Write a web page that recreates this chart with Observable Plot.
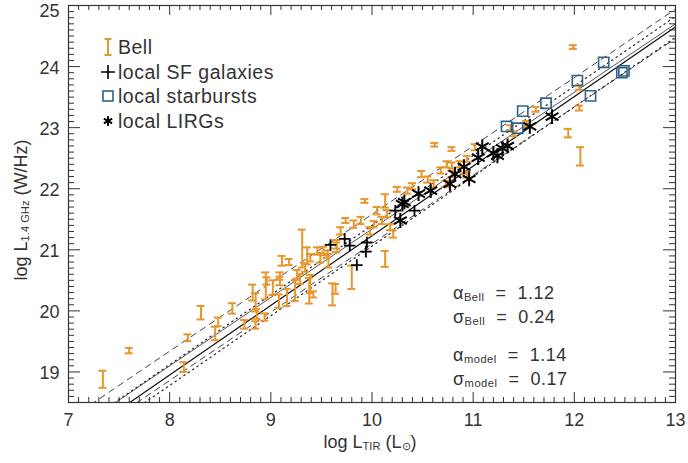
<!DOCTYPE html>
<html><head><meta charset="utf-8">
<script src="https://cdn.jsdelivr.net/npm/d3@7"></script>
<script src="https://cdn.jsdelivr.net/npm/@observablehq/plot@0.6"></script>
<style>body{margin:0;background:#fff}svg{display:block}</style>
</head><body><div id="chart"></div>
<script>
// Bell sample (orange error bars)
const bellX = [7.34,7.60,8.14,8.18,8.31,8.45,8.48,8.62,8.74,8.85,8.82,8.85,8.86,8.94,8.95,9.02,9.09,9.08,9.16,9.11,9.18,9.24,9.29,9.31,9.36,9.38,9.42,9.49,9.57,9.61,9.64,9.52,9.65,10.62,10.79,9.93,9.74,10.13,9.80,10.49,10.25,10.35,10.61,10.74,10.68,10.73,10.79,10.91,10.94,11.02,10.13,10.05,10.15,10.10,10.02,10.18,10.21,9.98,9.89,9.82,9.69,9.65,9.56,9.46,9.39,9.34,9.09,9.39,9.26,8.96,11.99,12.05,11.62,12.05,11.94,12.06,11.40,11.53,11.37,10.79,10.87,10.94,10.40,10.55];
const bellY = [18.88,19.35,19.08,19.56,19.97,19.63,19.82,20.04,19.78,19.77,20.30,20.14,19.95,19.90,20.41,20.38,20.57,20.16,20.22,20.82,20.80,20.33,20.52,21.02,20.90,20.33,20.27,20.87,20.82,20.27,20.36,20.98,21.04,22.72,22.65,21.80,21.48,20.85,20.55,22.24,21.99,21.97,22.08,22.40,22.30,22.08,22.24,22.30,22.49,22.68,21.80,21.64,21.59,21.48,21.42,21.37,21.26,21.31,21.48,21.42,21.31,21.09,20.93,20.98,20.87,20.71,20.49,20.44,20.60,20.49,24.32,23.66,23.30,23.32,22.91,22.53,22.90,23.06,23.00,22.38,22.40,22.23,22.04,22.15];
const bellErr = [0.14,0.045,0.08,0.055,0.11,0.11,0.07,0.085,0.07,0.06,0.13,0.15,0.08,0.06,0.22,0.12,0.06,0.11,0.14,0.08,0.05,0.17,0.08,0.31,0.14,0.21,0.05,0.08,0.11,0.18,0.08,0.07,0.08,0.03,0.03,0.03,0.04,0.13,0.19,0.05,0.04,0.05,0.06,0.05,0.05,0.05,0.05,0.05,0.05,0.05,0.11,0.06,0.06,0.06,0.05,0.05,0.06,0.06,0.06,0.06,0.06,0.07,0.06,0.06,0.06,0.07,0.07,0.15,0.07,0.06,0.03,0.04,0.04,0.04,0.07,0.15,0.04,0.05,0.04,0.05,0.05,0.05,0.05,0.05];
// local SF galaxies (plus)
const sfX = [10.23,10.42,9.73,9.59,9.78,9.95,9.94,9.85];
const sfY = [21.64,21.64,21.18,21.08,21.07,21.12,20.97,20.75];
// local starbursts (squares)
const sbX = [12.29,12.03,12.47,12.49,11.72,12.16,11.49,11.33,11.44];
const sbY = [24.07,23.77,23.90,23.93,23.40,23.52,23.27,23.02,22.99];
// local LIRGs (asterisks)
const lirgX = [11.78,11.56,11.09,11.34,11.29,11.20,11.24,11.05,10.91,10.82,10.96,10.77,10.58,10.46,10.30,10.32,10.28];
const lirgY = [23.18,23.02,22.69,22.70,22.66,22.58,22.54,22.51,22.36,22.24,22.16,22.08,21.97,21.92,21.75,21.78,21.48];
// fits
const fitNames = ["Bell","model"];
const fitSlopes = [1.12, 1.14];
const fitIntercepts = [10.14, 9.83];
const fitSigmas = [0.24, 0.17];
const xTickValues = [7,8,9,10,11,12,13];
const yTickValues = [19,20,21,22,23,24,25];

const W = 688, H = 463, mL = 68, mR = 13, mT = 5, mB = 61;
const xDom = [7,13], yDom = [18.5,25];
const pxX = (xDom[1]-xDom[0])/(W-mL-mR);
const pxY = (yDom[1]-yDom[0])/(H-mT-mB);

const orange = "#E8952B", blue = "#2F6189", ink = "#333";

const bell = bellX.map((x,i)=>({x, y: bellY[i], e: bellErr[i]}));
const sf = sfX.map((x,i)=>({x, y: sfY[i]}));
const sb = sbX.map((x,i)=>({x, y: sbY[i]}));
const lirg = lirgX.map((x,i)=>({x, y: lirgY[i]}));

function fitLine(k, off){
  return [6.5, 13.5].map(x=>({x, y: fitSlopes[k]*x + fitIntercepts[k] + off}));
}

const xMinor = d3.range(70,131).map(v=>v/10).filter(v=>!xTickValues.includes(v));
const yMinor = d3.range(185,251).map(v=>v/10).filter(v=>!yTickValues.includes(v));

const capW = 4*pxX;
const tickMarks = [
  Plot.ruleX(xTickValues, {x: d=>d, y1: yDom[0], y2: yDom[0]+10*pxY, stroke: ink}),
  Plot.ruleX(xTickValues, {x: d=>d, y1: yDom[1], y2: yDom[1]-10*pxY, stroke: ink}),
  Plot.ruleX(xMinor, {x: d=>d, y1: yDom[0], y2: yDom[0]+5*pxY, stroke: ink}),
  Plot.ruleX(xMinor, {x: d=>d, y1: yDom[1], y2: yDom[1]-5*pxY, stroke: ink}),
  Plot.ruleY(yTickValues, {y: d=>d, x1: xDom[0], x2: xDom[0]+12*pxX, stroke: ink}),
  Plot.ruleY(yTickValues, {y: d=>d, x1: xDom[1], x2: xDom[1]-12*pxX, stroke: ink}),
  Plot.ruleY(yMinor, {y: d=>d, x1: xDom[0], x2: xDom[0]+6*pxX, stroke: ink}),
  Plot.ruleY(yMinor, {y: d=>d, x1: xDom[1], x2: xDom[1]-6*pxX, stroke: ink})
];

const chart = Plot.plot({
  width: W, height: H,
  marginLeft: mL, marginRight: mR, marginTop: mT, marginBottom: mB,
  style: {fontFamily: "'Liberation Sans', Arial, sans-serif", color: ink, background: "#fff"},
  x: {domain: xDom, axis: null, label: null},
  y: {domain: yDom, axis: null, label: null},
  marks: [
    // fit lines
    Plot.line(fitLine(0,0), {x:"x", y:"y", stroke:"#555", strokeWidth:1, clip:true}),
    Plot.line(fitLine(0, fitSigmas[0]), {x:"x", y:"y", stroke:"#444", strokeWidth:1, strokeDasharray:"6,5", clip:true}),
    Plot.line(fitLine(0,-fitSigmas[0]), {x:"x", y:"y", stroke:"#444", strokeWidth:1, strokeDasharray:"6,5", clip:true}),
    Plot.line(fitLine(1,0), {x:"x", y:"y", stroke:"#111", strokeWidth:1.2, clip:true}),
    Plot.line(fitLine(1, fitSigmas[1]), {x:"x", y:"y", stroke:"#222", strokeWidth:1.2, strokeDasharray:"1.3,4", clip:true}),
    Plot.line(fitLine(1,-fitSigmas[1]), {x:"x", y:"y", stroke:"#222", strokeWidth:1.2, strokeDasharray:"1.3,4", clip:true}),
    // Bell error bars
    Plot.ruleX(bell, {x:"x", y1: d=>d.y-d.e, y2: d=>d.y+d.e, stroke: orange, strokeWidth: 2}),
    Plot.ruleY(bell, {y: d=>d.y-d.e, x1: d=>d.x-capW, x2: d=>d.x+capW, stroke: orange, strokeWidth: 2}),
    Plot.ruleY(bell, {y: d=>d.y+d.e, x1: d=>d.x-capW, x2: d=>d.x+capW, stroke: orange, strokeWidth: 2}),
    // squares
    Plot.dot(sb, {x:"x", y:"y", symbol:"square2", r: 6.5, stroke: blue, strokeWidth: 1.6, fill:"none"}),
    // plus
    Plot.dot(sf, {x:"x", y:"y", symbol:"plus", r: 3.8, stroke: "#000", strokeWidth: 1.8}),
    // asterisk
    Plot.dot(lirg, {x:"x", y:"y", symbol:"asterisk", r: 7, stroke: "#000", strokeWidth: 2}),
    ...tickMarks,
    Plot.frame({stroke: ink, strokeWidth: 1.2}),
    Plot.axisX(xTickValues, {tickSize: 0, tickPadding: 11, fontSize: 18, fill: ink, label: null, tickFormat: d=>String(d)}),
    Plot.axisY(yTickValues.filter(v=>v<25), {tickSize: 0, tickPadding: 9, dy: 1.5, fontSize: 18, fill: ink, label: null, tickFormat: d=>String(d)}),
    Plot.axisY(yTickValues.filter(v=>v===25), {tickSize: 0, tickPadding: 9, dy: 6, fontSize: 18, fill: ink, label: null, tickFormat: d=>String(d)})
  ]
});
document.getElementById("chart").appendChild(chart);

// Text overlays (titles, legend, annotations)
const svg = d3.select(chart);
const g = svg.append("g").attr("font-family","'Liberation Sans', Arial, sans-serif").attr("fill", ink).attr("text-anchor","start");

function subText(parent, x, y, parts, size, attrs={}) {
  const t = parent.append("text").attr("x", x).attr("y", y).attr("font-size", size).attr("text-anchor","start");
  for (const [k,v] of Object.entries(attrs)) t.attr(k, v);
  for (const p of parts) {
    const s = t.append("tspan").text(p.t);
    if (p.sub) s.attr("font-size", size*0.62).attr("baseline-shift", "-22%");
  }
  return t;
}

// x title
subText(g, 370, 448, [{t:"log L"},{t:"TIR",sub:true},{t:" (L"},{t:"⊙",sub:true},{t:")"}], 18, {"text-anchor":"middle"});
// y title
subText(g, 0, 0, [{t:"log L"},{t:"1.4 GHz",sub:true},{t:" (W/Hz)"}], 18, {"text-anchor":"middle", transform:"translate(27,210) rotate(-90)"});

// Legend
const lx = 108, ly = [47, 72, 96, 121];
const lg = g.append("g");
lg.append("path").attr("d", `M${lx},${ly[0]-8}V${ly[0]+8}M${lx-3.5},${ly[0]-8}H${lx+3.5}M${lx-3.5},${ly[0]+8}H${lx+3.5}`).attr("stroke", orange).attr("stroke-width", 2).attr("fill","none");
lg.append("path").attr("d", d3.symbol(d3.symbolPlus, 64)()).attr("transform", `translate(${lx},${ly[1]})`).attr("stroke","#000").attr("stroke-width",1.6).attr("fill","none");
lg.append("rect").attr("x", lx-5).attr("y", ly[2]-5).attr("width",10).attr("height",10).attr("stroke", blue).attr("stroke-width",1.6).attr("fill","none");
lg.append("path").attr("d", d3.symbol(d3.symbolAsterisk, 64)()).attr("transform", `translate(${lx},${ly[3]})`).attr("stroke","#000").attr("stroke-width",2).attr("fill","none");
const legendLabels = ["Bell","local SF galaxies","local starbursts","local LIRGs"];
legendLabels.forEach((s,i)=> lg.append("text").attr("x", lx+10).attr("y", ly[i]+7).attr("font-size", 19.5).attr("text-anchor","start").attr("letter-spacing", "0.5px").text(s));

// Annotations
const ax = 453, ay = [299, 323, 361, 385];
const ann = [
  [{t:"α"},{t:"Bell",sub:true},{t:"  =  " + fitSlopes[0].toFixed(2)}],
  [{t:"σ"},{t:"Bell",sub:true},{t:"  =  " + fitSigmas[0].toFixed(2)}],
  [{t:"α"},{t:"model",sub:true},{t:"  =  " + fitSlopes[1].toFixed(2)}],
  [{t:"σ"},{t:"model",sub:true},{t:"  =  " + fitSigmas[1].toFixed(2)}]
];
ann.forEach((p,i)=> subText(g, ax, ay[i], p, 18, {"letter-spacing":"0.5px", "style":"white-space:pre"}));
</script>
</body></html>
